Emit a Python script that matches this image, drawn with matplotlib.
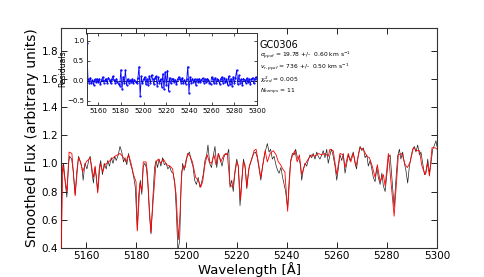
import matplotlib
matplotlib.use("Agg")
import matplotlib.pyplot as plt
import numpy as np

# ---- model (red) spectrum ----
model_wave = [5150.0, 5150.7, 5152.3, 5153.2, 5154.3, 5155.6, 5156.9, 5157.8, 5158.6, 5160.0,
              5161.6, 5162.9, 5163.6, 5164.6, 5165.6, 5166.6, 5167.5, 5168.9, 5170.2, 5171.5,
              5173.5, 5174.9, 5175.9, 5176.9, 5177.8, 5178.9, 5179.9, 5180.4, 5181.5, 5182.2,
              5182.8, 5183.9, 5184.4, 5185.8, 5187.9, 5188.8, 5189.8, 5190.8, 5192.1, 5193.5,
              5194.5, 5195.9, 5196.8, 5197.5, 5198.1, 5198.8, 5199.5, 5200.5, 5201.5, 5202.4,
              5203.7, 5205.0, 5205.7, 5206.5, 5207.4, 5208.3, 5209.1, 5210.0, 5211.0, 5211.8,
              5212.7, 5213.7, 5215.0, 5216.3, 5217.4, 5218.5, 5220.1, 5220.7, 5221.6, 5222.7,
              5223.4, 5224.1, 5225.1, 5226.1, 5227.0, 5227.8, 5228.7, 5229.7, 5230.5, 5231.4,
              5232.3, 5233.4, 5234.7, 5235.8, 5236.7, 5237.6, 5238.4, 5239.3, 5240.4, 5241.6,
              5242.4, 5243.3, 5244.2, 5245.1, 5246.0, 5247.3, 5248.6, 5250.0, 5251.3, 5252.6,
              5254.0, 5255.3, 5256.6, 5257.3, 5258.6, 5260.0, 5261.3, 5262.6, 5263.3, 5264.6,
              5265.6, 5266.6, 5267.7, 5269.3, 5270.6, 5272.0, 5273.0, 5274.0, 5275.3, 5276.2,
              5277.3, 5278.6, 5279.3, 5280.6, 5282.9, 5284.6, 5286.0, 5287.3, 5288.2, 5289.3,
              5290.6, 5292.0, 5293.0, 5294.0, 5295.3, 5296.2, 5297.0, 5298.0, 5299.3, 5300.0]
model_flux = [0.36, 0.99, 0.80, 1.08, 1.07, 0.77, 1.04, 1.01, 0.94, 1.01,
              1.04, 0.90, 0.98, 0.79, 1.00, 0.94, 0.99, 1.01, 1.03, 1.05,
              1.07, 1.04, 1.01, 1.06, 1.01, 0.92, 0.87, 0.52, 0.86, 0.80,
              1.01, 1.01, 0.94, 0.51, 1.01, 1.03, 1.00, 1.03, 0.99, 0.98,
              0.96, 0.78, 0.46, 0.66, 0.94, 0.98, 0.97, 1.07, 1.05, 1.01,
              0.90, 0.87, 0.83, 0.87, 0.99, 1.06, 1.01, 1.00, 1.06, 0.99,
              1.07, 1.01, 1.06, 1.07, 0.85, 0.83, 1.01, 0.98, 0.74, 1.01,
              0.99, 0.83, 0.98, 1.03, 1.09, 1.10, 1.01, 0.90, 0.99, 1.09,
              1.01, 1.07, 1.09, 1.06, 1.01, 0.99, 0.96, 0.94, 0.66, 1.01,
              1.06, 1.09, 1.01, 1.06, 0.92, 0.99, 1.03, 1.06, 1.05, 1.07,
              1.06, 1.07, 1.05, 1.10, 1.09, 0.92, 1.07, 1.06, 0.97, 1.07,
              1.01, 1.07, 0.98, 1.11, 1.10, 1.05, 1.04, 0.99, 0.90, 0.99,
              0.87, 0.92, 0.84, 1.07, 0.625, 1.06, 1.07, 0.99, 0.97, 1.01,
              1.11, 1.09, 1.09, 0.98, 0.92, 1.00, 0.91, 1.11, 1.11, 1.10]

# ---- observed (black) spectrum ----
data_wave = [5150.0, 5150.5, 5151.0, 5151.7, 5152.3, 5153.0, 5153.4, 5154.2, 5154.8, 5155.6,
             5156.3, 5157.0, 5157.8, 5158.3, 5158.8, 5159.5, 5160.3, 5161.0, 5161.6, 5162.2,
             5162.9, 5163.5, 5164.1, 5164.6, 5165.2, 5165.8, 5166.5, 5167.2, 5168.0, 5168.6,
             5169.3, 5170.0, 5170.7, 5171.4, 5172.0, 5172.8, 5173.5, 5174.2, 5174.9, 5175.5,
             5176.2, 5176.9, 5177.6, 5178.3, 5179.0, 5179.6, 5180.4, 5181.0, 5181.6, 5182.2,
             5182.8, 5183.4, 5184.0, 5184.6, 5185.3, 5185.9, 5186.6, 5187.3, 5187.9, 5188.5,
             5189.1, 5189.8, 5190.5, 5191.2, 5191.9, 5192.6, 5193.3, 5194.0, 5194.7, 5195.4,
             5196.0, 5196.6, 5197.3, 5197.9, 5198.5, 5199.1, 5199.8, 5200.5, 5201.2, 5201.9,
             5202.6, 5203.3, 5204.0, 5204.7, 5205.4, 5206.0, 5206.7, 5207.4, 5208.1, 5208.6,
             5209.3, 5210.0, 5210.7, 5211.4, 5212.1, 5212.8, 5213.5, 5214.2, 5214.9, 5215.6,
             5216.3, 5216.9, 5217.4, 5218.1, 5218.7, 5219.4, 5220.1, 5220.7, 5221.4, 5222.1,
             5222.8, 5223.5, 5224.1, 5224.8, 5225.5, 5226.2, 5226.9, 5227.6, 5228.3, 5229.0,
             5229.7, 5230.4, 5231.1, 5231.7, 5232.3, 5233.0, 5233.6, 5234.3, 5235.0, 5235.7,
             5236.4, 5237.0, 5237.7, 5238.4, 5239.0, 5239.6, 5240.4, 5241.0, 5241.6, 5242.3,
             5243.0, 5243.6, 5244.3, 5244.9, 5245.5, 5246.0, 5246.7, 5247.3, 5248.0, 5248.6,
             5249.3, 5250.0, 5250.6, 5251.3, 5252.0, 5252.6, 5253.3, 5254.0, 5254.6, 5255.3,
             5256.0, 5256.6, 5257.3, 5257.9, 5258.6, 5259.3, 5260.0, 5260.6, 5261.3, 5262.0,
             5262.6, 5263.3, 5264.0, 5264.6, 5265.3, 5266.0, 5266.6, 5267.3, 5267.9, 5268.6,
             5269.3, 5270.0, 5270.6, 5271.3, 5272.0, 5272.6, 5273.3, 5274.0, 5274.6, 5275.3,
             5276.0, 5276.6, 5277.3, 5278.0, 5278.6, 5279.3, 5280.0, 5280.6, 5281.3, 5282.0,
             5282.9, 5283.6, 5284.3, 5285.0, 5285.6, 5286.3, 5287.0, 5287.6, 5288.3, 5289.0,
             5289.6, 5290.3, 5291.0, 5291.6, 5292.3, 5293.0, 5293.6, 5294.3, 5295.0, 5295.6,
             5296.3, 5297.0, 5297.6, 5298.3, 5299.0, 5299.6, 5300.0]
data_flux = [0.88, 0.95, 1.00, 0.85, 0.76, 1.00, 1.05, 1.03, 0.95, 0.78,
             0.95, 1.05, 1.00, 0.97, 0.88, 1.00, 0.96, 1.02, 1.05, 0.95,
             0.86, 0.97, 0.90, 0.80, 0.96, 1.02, 0.92, 1.00, 0.96, 1.02,
             0.98, 1.04, 1.00, 1.05, 1.02, 1.06, 1.12, 1.08, 1.01, 1.04,
             0.99, 1.07, 1.00, 0.96, 0.90, 0.83, 0.53, 0.78, 0.88, 0.78,
             0.98, 1.00, 0.97, 0.86, 0.62, 0.50, 0.75, 0.97, 1.02, 0.97,
             1.03, 0.98, 1.04, 0.99, 1.00, 0.96, 0.98, 0.94, 0.93, 0.86,
             0.65, 0.38, 0.45, 0.85, 1.00, 0.95, 1.02, 1.06, 1.08, 1.02,
             0.98, 0.88, 0.85, 0.90, 0.83, 0.86, 0.92, 1.02, 1.06, 1.13,
             1.00, 0.97, 1.05, 1.12, 0.97, 1.07, 1.03, 0.98, 1.04, 1.07,
             1.06, 1.10, 0.83, 0.88, 0.80, 0.95, 1.03, 0.98, 0.70, 0.88,
             1.03, 0.96, 0.82, 0.95, 1.00, 1.04, 1.07, 1.08, 1.04, 0.96,
             0.88, 0.98, 1.05, 1.10, 1.14, 1.08, 1.10, 1.03, 1.05, 0.99,
             0.95, 0.93, 0.97, 0.90, 0.85, 0.80, 0.68, 0.88, 1.02, 1.07,
             1.06, 1.10, 1.04, 1.03, 0.99, 0.88, 0.96, 1.00, 0.98, 1.02,
             1.06, 1.04, 1.07, 1.03, 1.08, 1.05, 1.03, 1.06, 1.09, 1.04,
             1.10, 1.00, 1.06, 1.10, 1.05, 0.98, 0.88, 0.96, 1.06, 1.02,
             1.07, 0.93, 1.00, 1.06, 1.02, 1.05, 1.08, 1.00, 0.96, 1.06,
             1.12, 1.09, 1.11, 1.04, 1.06, 0.98, 1.02, 0.96, 0.90, 0.87,
             0.97, 0.90, 0.85, 0.93, 0.84, 0.80, 0.92, 1.04, 1.06, 0.90,
             0.69, 0.88, 1.05, 1.10, 1.03, 1.08, 1.00, 0.95, 0.86, 0.98,
             1.04, 1.10, 1.12, 1.08, 1.13, 1.06, 1.08, 1.00, 0.92, 0.93,
             1.03, 0.93, 1.00, 1.10, 1.13, 1.16, 1.12]

# ---- residuals (inset), 1 A grid 5150..5300 ----
resid_wave = list(range(5150, 5301))
resid = [0.95, 0.05, -0.05, 0.08, -0.06, 0.02, -0.10, 0.04, -0.03, 0.06,
         -0.02, 0.05, -0.08, 0.03, 0.10, -0.04, 0.02, 0.06, -0.05, 0.08,
         0.03, -0.06, 0.05, 0.12, 0.02, -0.04, 0.06, -0.02, -0.08, -0.12,
         0.28, -0.20, 0.10, -0.05, 0.27, -0.10, 0.05, -0.04, 0.02, -0.03,
         0.05, -0.06, 0.03, -0.02, -0.05, 0.08, 0.36, -0.38, 0.12, -0.06,
         0.04, 0.10, -0.08, 0.06, -0.10, 0.12, -0.05, 0.15, 0.05, -0.08,
         0.08, 0.12, -0.12, 0.10, -0.04, 0.05, -0.15, 0.18, -0.20, 0.22,
         -0.10, 0.26, -0.25, 0.08, -0.06, 0.04, 0.06, -0.03, 0.03, -0.08,
         0.05, 0.10, 0.06, -0.04, 0.08, -0.05, 0.03, -0.07, 0.04, 0.36,
         -0.30, 0.10, -0.04, 0.06, -0.02, 0.05, -0.10, 0.04, -0.03, 0.06,
         -0.02, 0.03, 0.07, -0.04, 0.05, -0.03, 0.06, 0.02, -0.05, -0.08,
         0.10, 0.04, -0.06, 0.08, -0.04, 0.05, 0.03, -0.08, 0.06, 0.10,
         -0.05, 0.07, -0.03, 0.05, -0.10, 0.12, -0.08, 0.06, -0.12, 0.10,
         -0.05, 0.08, 0.27, -0.08, 0.14, -0.04, 0.05, -0.10, 0.06, 0.03,
         -0.05, 0.07, -0.03, 0.05, -0.08, 0.04, 0.08, -0.06, 0.05, 0.10,
         0.06]

main_xticks = [5160, 5180, 5200, 5220, 5240, 5260, 5280, 5300]
main_yticks = [0.4, 0.6, 0.8, 1.0, 1.2, 1.4, 1.6, 1.8]
inset_yticks = [-0.5, 0.0, 0.5, 1.0]

info_lines = ["GC0306",
              r"$\sigma_{ppxf}$ = 19.78 +/-  0.60 km s$^{-1}$",
              r"$v_{r,ppxf}$ = 736 +/-  0.50 km s$^{-1}$",
              r"$\chi^2_{red}$ = 0.005",
              r"$N_{temps}$ = 11"]

fig = plt.figure(figsize=(4.85, 2.77), dpi=100)
ax = fig.add_axes([0.126, 0.105, 0.775, 0.794])
ax.plot(data_wave, data_flux, color="#222222", lw=0.5, zorder=2)
ax.plot(model_wave, model_flux, color="red", lw=0.6, zorder=3)
ax.set_xlim(5150, 5300)
ax.set_ylim(0.4, 1.96)
ax.set_xticks(main_xticks)
ax.set_yticks(main_yticks)
ax.tick_params(direction="in", top=True, right=True, length=4, width=0.6, labelsize=7.5, pad=2)
for s in ax.spines.values():
    s.set_linewidth(0.8)
    s.set_color("#333333")
ax.set_xlabel("Wavelength [Å]", fontsize=9.5, labelpad=1)
ax.set_ylabel("Smoothed Flux (arbitrary units)", fontsize=10, labelpad=2)

ys = [0.922, 0.874, 0.822, 0.764, 0.709]
for i, (t, y) in enumerate(zip(info_lines, ys)):
    ax.text(0.529, y, t, transform=ax.transAxes, ha="left", va="center",
            fontsize=7 if i == 0 else 4.3)

ins = fig.add_axes([0.179, 0.621, 0.351, 0.26])
ins.plot(resid_wave, resid, color="blue", lw=0.6, ls="-", marker=".", ms=1.2)
ins.axhline(0.0, color="black", lw=0.6, ls="--", zorder=0)
ins.set_xlim(5150, 5300)
ins.set_ylim(-0.6, 1.2)
ins.set_xticks(main_xticks)
ins.set_yticks(inset_yticks)
ins.tick_params(direction="in", top=True, right=True, length=2.5, width=0.5, labelsize=5, pad=2)
for s in ins.spines.values():
    s.set_linewidth(0.7)
    s.set_color("#333333")
ins.set_ylabel("Residuals", fontsize=5.5, labelpad=0)

fig.savefig("out.png", dpi=100)
